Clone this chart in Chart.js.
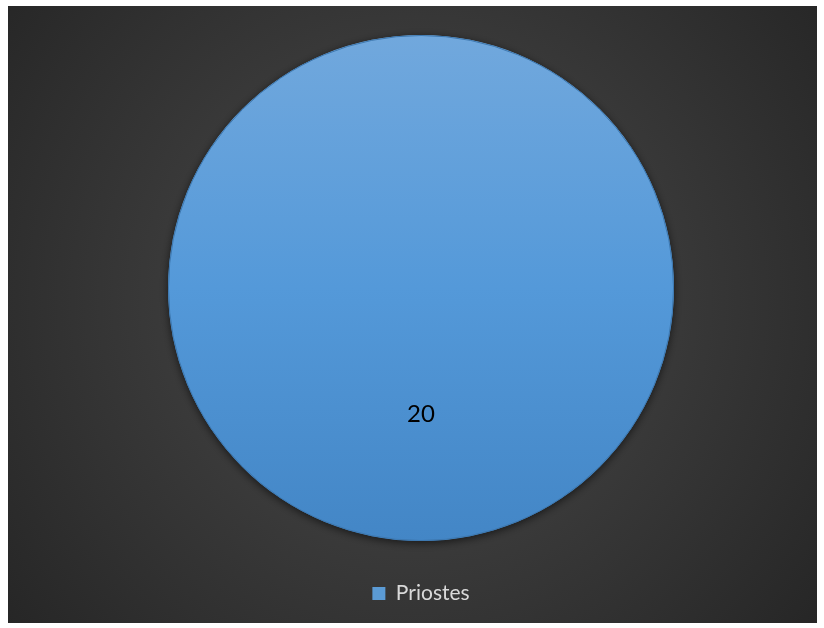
<!DOCTYPE html>
<html>
<head>
<meta charset="utf-8">
<script src="https://cdn.jsdelivr.net/npm/chart.js@4.4.0/dist/chart.umd.min.js"></script>
<style>
  html, body { margin: 0; padding: 0; background: #ffffff; }
  #wrap { width: 824px; height: 628px; position: relative; }
</style>
</head>
<body>
<div id="wrap"><canvas id="chart1"></canvas></div>
<script>
// Données du graphique
var categories = ['Priostes'];
var valeurs = [20];
var etiquettes = ['20'];

// Fond : bord blanc puis rectangle sombre en dégradé radial
var fondPlugin = {
    id: 'fond',
    beforeDraw: function(chart) {
        var ctx = chart.ctx;
        ctx.save();
        ctx.fillStyle = '#ffffff';
        ctx.fillRect(0, 0, chart.width, chart.height);
        var g = ctx.createRadialGradient(412, 300, 20, 412, 300, 520);
        g.addColorStop(0, '#4a4a4a');
        g.addColorStop(1, '#262626');
        ctx.fillStyle = g;
        ctx.fillRect(8, 6, 809, 617);
        ctx.restore();
    },
    beforeDatasetsDraw: function(chart) {
        // ombre sous le disque
        chart.ctx.save();
        chart.ctx.shadowColor = 'rgba(0,0,0,0.6)';
        chart.ctx.shadowBlur = 8;
        chart.ctx.shadowOffsetY = 2;
    },
    afterDatasetsDraw: function(chart) {
        chart.ctx.restore();
        var ctx = chart.ctx;
        var meta = chart.getDatasetMeta(0);
        ctx.save();
        // contour du disque (sans le trait radial)
        meta.data.forEach(function(arc) {
            ctx.beginPath();
            ctx.arc(arc.x, arc.y, arc.outerRadius - 0.5, 0, Math.PI * 2);
            ctx.strokeStyle = '#3d78b0';
            ctx.lineWidth = 1;
            ctx.stroke();
        });
        ctx.fillStyle = '#000000';
        ctx.font = '24px Lato, "Open Sans", sans-serif';
        ctx.textAlign = 'center';
        ctx.textBaseline = 'middle';
        meta.data.forEach(function(arc, i) {
            var pos = arc.tooltipPosition();
            ctx.fillText(etiquettes[i], pos.x, pos.y);
        });
        ctx.restore();
    }
};

var chart1 = new Chart(document.getElementById('chart1'), {
    type: 'pie',
    data: {
        labels: categories,
        datasets: [{
            data: valeurs,
            backgroundColor: function(context) {
                var area = context.chart.chartArea;
                if (!area) return '#5b9bd5';
                var g = context.chart.ctx.createLinearGradient(0, 35, 0, 541);
                g.addColorStop(0, '#71a8dd');
                g.addColorStop(0.5, '#5499d9');
                g.addColorStop(1, '#4386c6');
                return g;
            },
            borderWidth: 0
        }]
    },
    options: {
        responsive: true,
        maintainAspectRatio: false,
        animation: false,
        layout: { padding: { top: 10, left: 168, right: 150, bottom: 14 } },
        plugins: {
            legend: {
                display: true,
                position: 'bottom',
                labels: {
                    boxWidth: 13,
                    boxHeight: 13,
                    padding: 17,
                    color: '#d9d9d9',
                    font: { family: 'Lato, "Open Sans", sans-serif', size: 21 },
                    generateLabels: function(chart) {
                        return categories.map(function(c, i) {
                            return { text: c, fillStyle: '#5b9bd5', strokeStyle: '#5b9bd5', lineWidth: 0, fontColor: '#d9d9d9', index: i };
                        });
                    }
                }
            },
            tooltip: { enabled: false }
        }
    },
    plugins: [fondPlugin]
});
</script>
</body>
</html>
